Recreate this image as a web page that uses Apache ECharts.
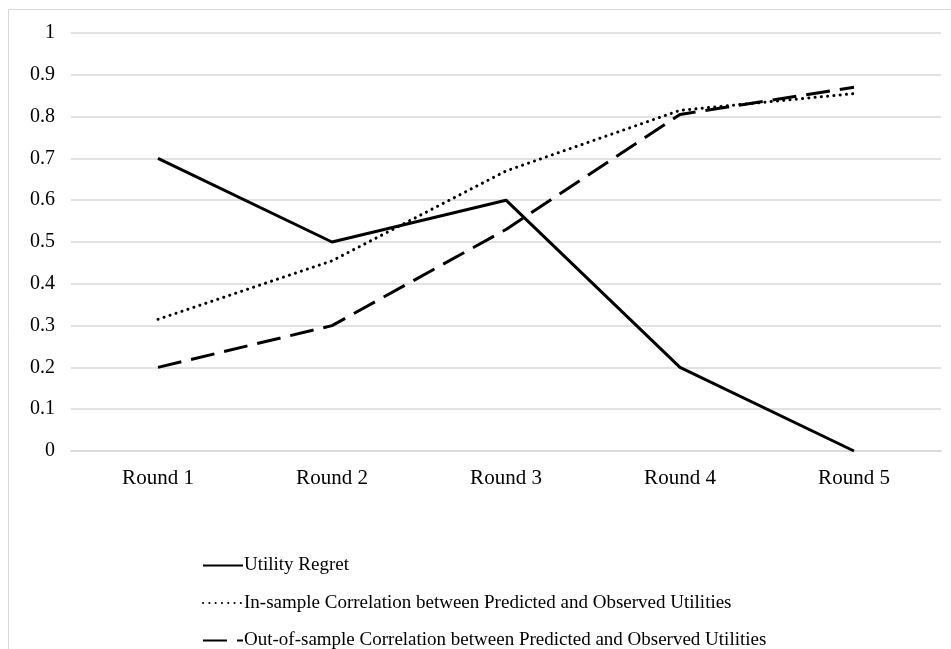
<!DOCTYPE html>
<html>
<head>
<meta charset="utf-8">
<script src="https://cdn.jsdelivr.net/npm/echarts@6/dist/echarts.min.js"></script>
<style>
  html, body { margin: 0; padding: 0; background: #fff; }
  #chart { width: 951px; height: 649px; }
</style>
</head>
<body>
<div id="chart"></div>
<script>
// Categories and series values
const rounds = ['Round 1', 'Round 2', 'Round 3', 'Round 4', 'Round 5'];
const utilityRegret = [0.7, 0.5, 0.6, 0.2, 0.0];
const inSampleCorr = [0.315, 0.455, 0.67, 0.815, 0.855];
const outSampleCorr = [0.2, 0.3, 0.53, 0.805, 0.87];
const seriesNames = [
  'Utility Regret',
  'In-sample Correlation between Predicted and Observed Utilities',
  'Out-of-sample Correlation between Predicted and Observed Utilities'
];

const FONT = '"Liberation Serif", "Times New Roman", serif';
const chart = echarts.init(document.getElementById('chart'), null, { renderer: 'canvas' });

chart.setOption({
  backgroundColor: '#ffffff',
  animation: false,
  // light outer frame of the chart area
  graphic: [{
    type: 'rect',
    shape: { x: 8.5, y: 9.5, width: 1000, height: 700 },
    style: { fill: 'none', stroke: '#d9d9d9', lineWidth: 1 },
    silent: true
  }],
  grid: { left: 71, right: 10, top: 33, bottom: 198, containLabel: false },
  xAxis: {
    type: 'category',
    data: rounds,
    boundaryGap: true,
    axisLine: { show: true, lineStyle: { color: '#d9d9d9', width: 1.5 } },
    axisTick: { show: false },
    axisLabel: { color: '#000', fontFamily: FONT, fontSize: 21, margin: 17 }
  },
  yAxis: {
    type: 'value',
    min: 0, max: 1, interval: 0.1,
    axisLine: { show: false },
    axisTick: { show: false },
    splitLine: { lineStyle: { color: '#d9d9d9', width: 1.5 } },
    axisLabel: {
      color: '#000', fontFamily: FONT, fontSize: 20, margin: 16,
      formatter: v => String(Math.round(v * 10) / 10)
    }
  },
  legend: {
    orient: 'vertical',
    left: 202,
    top: 556,
    height: 150,
    padding: 0,
    itemGap: 18.5,
    itemWidth: 40,
    itemHeight: 3,
    itemStyle: { opacity: 0 },
    textStyle: { color: '#000', fontFamily: FONT, fontSize: 19, padding: [0, 0, 0, -4] },
    data: seriesNames
  },
  series: [
    {
      name: seriesNames[0], type: 'line', data: utilityRegret,
      symbol: 'none', color: '#000',
      lineStyle: { color: '#000', width: 3, type: 'solid' }
    },
    {
      name: seriesNames[1], type: 'line', data: inSampleCorr,
      symbol: 'none', color: '#000',
      lineStyle: { color: '#000', width: 3, type: [0.1, 6.2], cap: 'round' }
    },
    {
      name: seriesNames[2], type: 'line', data: outSampleCorr,
      symbol: 'none', color: '#000',
      lineStyle: { color: '#000', width: 3, type: [24, 10] }
    }
  ]
});
</script>
</body>
</html>
